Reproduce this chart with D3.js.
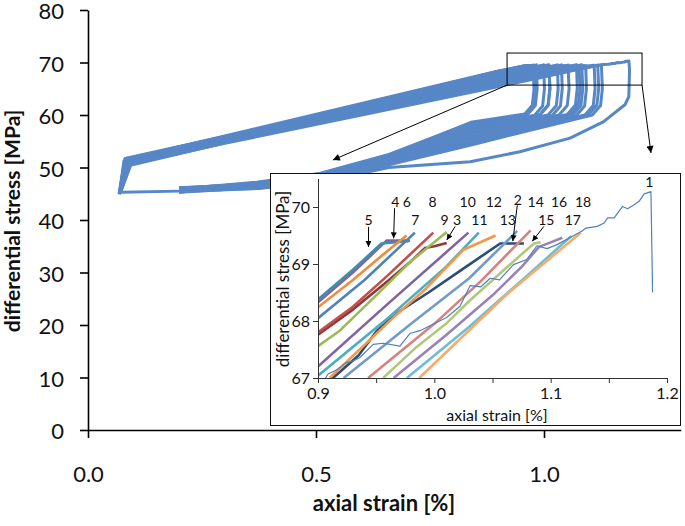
<!DOCTYPE html>
<html><head><meta charset="utf-8">
<script src="https://cdn.jsdelivr.net/npm/d3@7"></script>
<style>
body{margin:0;background:#fff}
svg{display:block}
text{font-family:Lato,"Open Sans",sans-serif;fill:#111}
</style>
</head><body>
<svg id="chart" width="685" height="526"></svg>
<script>
// ---------------- data ----------------
const mainXTicks = [0, 0.5, 1.0];
const mainYTicks = [0, 10, 20, 30, 40, 50, 60, 70, 80];
const insetXTicks = [0.9, 0.95, 1.0, 1.05, 1.1, 1.15, 1.2];
const insetXLabels = [0.9, 1.0, 1.1, 1.2];
const insetYTicks = [67, 68, 69, 70];
const seriesLabels = ["1","2","3","4","5","6","7","8","9","10","11","12","13","14","15","16","17","18"];
const seriesColors = ["#4F81BD","#2C4D75","#943634","#8064A2","#3F8DAE","#F38B3D","#4F81BD","#C0504D","#9BBB59",
                      "#8064A2","#4BACC6","#F79646","#729ACA","#D9817E","#AFC97A","#9983B5","#6FBDD1","#F9AB6B"];

// inset: top part of each loading branch  [axial strain %, differential stress MPa]
const insetLines = [
  [[0.905,66.95],[0.9086,67.07],[0.9158,67.14],[0.9244,67.27],[0.9302,67.30],[0.936,67.36],[0.9474,67.59],[0.956,67.61],[0.9704,67.56],[0.979,67.78],[0.9876,67.83],[1.0106,68.06],[1.0221,68.26],[1.0307,68.62],[1.04,68.60],[1.048,68.75],[1.056,68.72],[1.068,68.99],[1.0796,69.08],[1.0882,69.32],[1.0968,69.27],[1.1055,69.34],[1.127,69.58],[1.1302,69.63],[1.1402,69.66],[1.146,69.72],[1.1489,69.81],[1.1546,69.81],[1.1618,70.01],[1.1661,69.97],[1.1718,70.04],[1.176,70.10],[1.1804,70.23],[1.1862,70.27],[1.1876,68.5]],
  [[0.9,66.75],[0.9129,67.0],[0.935,67.4],[0.9506,67.83],[0.9707,68.18],[0.995,68.5],[1.0221,68.88],[1.0566,69.36],[1.077,69.36]],
  [[0.9,67.76],[0.93,68.2],[0.96,68.7],[0.98,69.05],[0.992,69.28],[1.0,69.31],[1.0106,69.37]],
  [[0.9,68.33],[0.93,68.85],[0.9589,69.41],[0.979,69.41]],
  [[0.9,68.38],[0.93,68.9],[0.9546,69.36],[0.9776,69.40]],
  [[0.9,68.24],[0.93,68.72],[0.955,69.15],[0.9761,69.50]],
  [[0.9,68.05],[0.94,68.72],[0.9833,69.55]],
  [[0.9,67.80],[0.93,68.25],[0.96,68.8],[0.9991,69.55]],
  [[0.9,67.56],[0.9187,67.83],[0.95,68.45],[0.98,69.05],[1.0106,69.56]],
  [[0.9,67.2],[0.96,68.3],[1.0293,69.55]],
  [[0.9,67.04],[0.96,68.05],[1.01,68.95],[1.0382,69.55]],
  [[0.91,67.0],[0.9647,68.06],[0.9934,68.58],[1.025,69.25],[1.0526,69.50]],
  [[0.922,67.0],[0.98,67.95],[1.03,68.75],[1.0713,69.58]],
  [[0.9431,67.0],[1.0,67.95],[1.04,68.7],[1.0828,69.59]],
  [[0.956,67.0],[0.985,67.55],[1.01,67.95],[1.03,68.35],[1.06,68.9],[1.0856,69.36],[1.0914,69.38]],
  [[0.965,67.0],[1.01,67.75],[1.05,68.45],[1.075,68.95],[1.09,69.3],[1.1,69.38],[1.11,69.46]],
  [[0.9764,67.0],[1.03,67.9],[1.08,68.8],[1.1178,69.49]],
  [[0.987,67.0],[1.0624,68.47],[1.1259,69.55]]
];

// main plot: lower-left part of each loading branch
const loadLeft = [
  [[0.070,45.3],[0.080,51.0],[0.3,55.2],[0.6,61.0]],
  [[0.071,45.8],[0.082,51.4],[0.3,55.3],[0.6,61.0]],
  [[0.069,45.0],[0.079,51.3],[0.3,55.6],[0.6,61.6]],
  [[0.070,45.5],[0.081,51.7],[0.3,55.9],[0.6,62.0]],
  [[0.072,46.0],[0.083,51.6],[0.3,56.0],[0.6,62.2]],
  [[0.068,44.9],[0.080,51.2],[0.3,55.6],[0.6,61.9]],
  [[0.071,45.6],[0.084,51.5],[0.3,55.7],[0.6,61.8]],
  [[0.070,45.2],[0.082,51.0],[0.3,55.4],[0.6,61.6]],
  [[0.073,45.9],[0.086,51.1],[0.3,55.4],[0.6,61.5]],
  [[0.071,45.4],[0.085,50.9],[0.3,55.3],[0.6,61.2]],
  [[0.069,45.1],[0.083,50.8],[0.3,55.2],[0.6,61.1]],
  [[0.072,45.7],[0.087,50.9],[0.3,55.1],[0.6,61.0]],
  [[0.071,45.3],[0.088,50.6],[0.3,55.0],[0.6,60.8]],
  [[0.073,45.8],[0.090,50.8],[0.3,54.9],[0.6,60.6]],
  [[0.069,44.9],[0.089,50.5],[0.3,54.8],[0.6,60.5]],
  [[0.072,45.5],[0.092,50.7],[0.3,54.8],[0.6,60.3]],
  [[0.074,46.0],[0.093,50.4],[0.3,54.7],[0.6,60.2]],
  [[0.071,45.2],[0.094,50.6],[0.3,54.6],[0.6,60.0]]
];

// main plot: unloading branches after each peak
const unloadPath = [
  [[1.186,63.5],[1.178,62.0],[1.13,58.7],[1.057,55.6],[0.947,53.0],[0.838,51.1],[0.66,50.0],[0.51,47.3],[0.37,46.0],[0.2,45.4]],
  [[1.079,65.0],[1.075,61.8],[1.057,60.0],[0.84,55.7],[0.66,51.0],[0.51,47.6],[0.37,46.4],[0.2,45.9]],
  [[1.013,65.0],[1.009,61.8],[0.991,60.0],[0.84,57.6],[0.66,52.0],[0.51,48.5],[0.37,46.9],[0.2,45.4]],
  [[0.981,65.0],[0.977,61.8],[0.959,60.0],[0.84,58.5],[0.66,52.5],[0.51,48.9],[0.37,47.1],[0.2,45.8]],
  [[0.980,65.2],[0.976,62.0],[0.958,60.2],[0.84,58.6],[0.66,52.3],[0.51,48.6],[0.37,46.9],[0.2,46.1]],
  [[0.978,64.8],[0.974,61.6],[0.956,59.9],[0.84,58.4],[0.66,52.2],[0.51,48.7],[0.37,47.0],[0.2,45.3]],
  [[0.985,65.0],[0.981,61.8],[0.963,60.0],[0.84,58.3],[0.66,52.4],[0.51,48.8],[0.37,47.2],[0.2,45.9]],
  [[1.001,65.0],[0.997,61.7],[0.979,59.9],[0.84,57.9],[0.66,52.1],[0.51,48.4],[0.37,46.8],[0.2,45.5]],
  [[1.013,65.1],[1.009,61.9],[0.991,60.1],[0.84,57.5],[0.66,51.9],[0.51,48.3],[0.37,46.9],[0.2,46.1]],
  [[1.031,65.0],[1.027,61.8],[1.009,60.0],[0.84,57.1],[0.66,51.7],[0.51,48.2],[0.37,46.7],[0.2,45.7]],
  [[1.040,65.0],[1.036,61.7],[1.018,59.9],[0.84,56.8],[0.66,51.6],[0.51,48.0],[0.37,46.5],[0.2,45.4]],
  [[1.055,65.0],[1.051,61.8],[1.033,60.0],[0.84,56.4],[0.66,51.4],[0.51,47.9],[0.37,46.6],[0.2,46.0]],
  [[1.073,65.1],[1.069,61.9],[1.051,60.1],[0.84,55.9],[0.66,51.2],[0.51,47.8],[0.37,46.4],[0.2,45.6]],
  [[1.085,65.0],[1.081,61.8],[1.063,60.0],[0.84,55.5],[0.66,51.1],[0.51,47.7],[0.37,46.5],[0.2,46.0]],
  [[1.093,65.0],[1.089,61.7],[1.071,59.9],[0.84,55.3],[0.66,51.0],[0.51,47.5],[0.37,46.2],[0.2,45.3]],
  [[1.112,65.0],[1.108,61.8],[1.090,60.0],[0.84,54.8],[0.66,50.7],[0.51,47.4],[0.37,46.3],[0.2,45.8]],
  [[1.120,65.1],[1.116,61.9],[1.098,60.1],[0.84,54.5],[0.66,50.6],[0.51,47.3],[0.37,46.4],[0.2,46.2]],
  [[1.128,65.0],[1.124,61.8],[1.106,60.0],[0.84,54.3],[0.66,50.5],[0.51,47.2],[0.37,46.0],[0.2,45.5],[0.071,45.3]]
];

// annotations (data units of the inset)
const labelPos = [
  [1.1848,70.44],[1.0718,70.13],[1.0195,69.78],[0.9664,70.09],[0.9434,69.78],[0.9764,70.09],[0.9836,69.78],[0.9985,70.09],[1.0089,69.78],
  [1.0287,70.09],[1.0388,69.78],[1.0511,70.09],[1.0632,69.78],[1.0871,70.09],[1.0963,69.78],[1.1072,70.09],[1.119,69.78],[1.1279,70.09]
];
const insetArrows = [
  [[0.9434,69.65],[0.9434,69.30]],
  [[0.9658,69.98],[0.9650,69.45]],
  [[1.0179,69.66],[1.0107,69.42]],
  [[1.0713,70.03],[1.0675,69.40]],
  [[1.0942,69.66],[1.0842,69.40]]
];
// main plot zoom window and its arrows (data units of the main plot)
const zoomBox = [[0.919,65.7],[1.215,71.8]];
const zoomArrows = [
  [[0.919,65.7],[0.537,51.43]],
  [[1.215,65.7],[1.2346,52.76]]
];

// ---------------- drawing ----------------
const svg = d3.select("#chart");
const defs = svg.append("defs");
defs.append("marker").attr("id","ah").attr("viewBox","0 0 10 10").attr("refX",10).attr("refY",5)
  .attr("markerWidth",9).attr("markerHeight",7).attr("markerUnits","userSpaceOnUse").attr("orient","auto")
  .append("path").attr("d","M0,0 L10,5 L0,10 z").attr("fill","#000");
defs.append("marker").attr("id","ahs").attr("viewBox","0 0 10 10").attr("refX",10).attr("refY",5)
  .attr("markerWidth",8).attr("markerHeight",6).attr("markerUnits","userSpaceOnUse").attr("orient","auto")
  .append("path").attr("d","M0,0 L10,5 L0,10 z").attr("fill","#000");

const x = d3.scaleLinear().domain([0, 1.3]).range([88, 680.8]);
const y = d3.scaleLinear().domain([0, 80]).range([430, 10]);

// main curve
const mainLine = d3.line().x(d => x(d[0])).y(d => y(d[1]));
const cycles = loadLeft.map((l, i) => l.concat(insetLines[i], unloadPath[i]));
svg.append("g").selectAll("path").data(cycles).join("path")
  .attr("d", mainLine).attr("fill","none").attr("stroke","#5787C6").attr("stroke-width",3)
  .attr("stroke-linejoin","round");

// main axes
const gy = svg.append("g").attr("transform",`translate(${x(0)},0)`)
  .call(d3.axisLeft(y).tickValues(mainYTicks).tickSize(8).tickSizeOuter(0).tickPadding(16));
const gx = svg.append("g").attr("transform",`translate(0,${y(0)})`)
  .call(d3.axisBottom(x).tickValues(mainXTicks).tickFormat(d3.format(".1f")).tickSize(8).tickSizeOuter(0).tickPadding(28));
[gx, gy].forEach(g => {
  g.select(".domain").attr("stroke","#000").attr("stroke-width",1.6);
  g.selectAll(".tick line").attr("stroke","#000").attr("stroke-width",1.6);
  g.selectAll(".tick text").style("font-size","22px").attr("fill","#111");
});
gy.selectAll(".tick text").attr("dy","0.4em");
svg.append("text").attr("x",384).attr("y",511).attr("text-anchor","middle")
  .style("font-size","22px").style("font-weight","bold").text("axial strain [%]");
svg.append("text").attr("transform","translate(20,221) rotate(-90)").attr("text-anchor","middle")
  .style("font-size","21px").style("font-weight","bold").text("differential stress [MPa]");

// zoom window + arrows
svg.append("rect").attr("x",x(zoomBox[0][0])).attr("y",y(zoomBox[1][1]))
  .attr("width",x(zoomBox[1][0])-x(zoomBox[0][0])).attr("height",y(zoomBox[0][1])-y(zoomBox[1][1]))
  .attr("fill","none").attr("stroke","#000").attr("stroke-width",1);
svg.append("g").selectAll("line").data(zoomArrows).join("line")
  .attr("x1",d=>x(d[0][0])).attr("y1",d=>y(d[0][1])).attr("x2",d=>x(d[1][0])).attr("y2",d=>y(d[1][1]))
  .attr("stroke","#000").attr("stroke-width",1).attr("marker-end","url(#ah)");

// inset panel
svg.append("rect").attr("x",270.5).attr("y",173.5).attr("width",410).attr("height",252)
  .attr("fill","#fff").attr("stroke","#111").attr("stroke-width",1);

const xi = d3.scaleLinear().domain([0.9, 1.2]).range([318, 667]);
const yi = d3.scaleLinear().domain([67, 70.5]).range([378, 178.5]);
defs.append("clipPath").attr("id","clipIn").append("rect")
  .attr("x",xi(0.9)).attr("y",yi(70.5)).attr("width",xi(1.2)-xi(0.9)).attr("height",yi(67)-yi(70.5));

const inLine = d3.line().x(d => xi(d[0])).y(d => yi(d[1]));
const gl = svg.append("g").attr("clip-path","url(#clipIn)");
const order = d3.range(1, 18).concat([0]);
gl.selectAll("path").data(order).join("path")
  .attr("d", i => inLine(insetLines[i])).attr("fill","none")
  .attr("stroke", i => seriesColors[i]).attr("stroke-width", i => i === 0 ? 1.2 : 2.6)
  .attr("stroke-linejoin","round");

const giy = svg.append("g").attr("transform",`translate(${xi(0.9)},0)`)
  .call(d3.axisLeft(yi).tickValues(insetYTicks).tickFormat(d3.format("d")).tickSize(5).tickSizeOuter(0).tickPadding(3));
const gix = svg.append("g").attr("transform",`translate(0,${yi(67)})`)
  .call(d3.axisBottom(xi).tickValues(insetXTicks).tickSize(5).tickSizeOuter(0).tickPadding(5)
    .tickFormat(d => insetXLabels.some(v => Math.abs(v-d) < 1e-9) ? d3.format(".1f")(d) : ""));
[gix, giy].forEach(g => {
  g.select(".domain").attr("stroke","#333").attr("stroke-width",1);
  g.selectAll(".tick line").attr("stroke","#333").attr("stroke-width",1);
  g.selectAll(".tick text").style("font-size","16px").attr("fill","#111");
});
svg.append("text").attr("x",497).attr("y",421).attr("text-anchor","middle")
  .style("font-size","16px").text("axial strain [%]");
svg.append("text").attr("transform","translate(289,279) rotate(-90)").attr("text-anchor","middle")
  .style("font-size","17px").text("differential stress [MPa]");

// series labels and arrows
svg.append("g").selectAll("text").data(labelPos).join("text")
  .attr("x", d => xi(d[0])).attr("y", d => yi(d[1])).attr("text-anchor","middle")
  .attr("dominant-baseline","central").style("font-size","14px")
  .text((d, i) => seriesLabels[i]);
svg.append("g").selectAll("line").data(insetArrows).join("line")
  .attr("x1",d=>xi(d[0][0])).attr("y1",d=>yi(d[0][1])).attr("x2",d=>xi(d[1][0])).attr("y2",d=>yi(d[1][1]))
  .attr("stroke","#000").attr("stroke-width",1).attr("marker-end","url(#ahs)");
</script>
</body></html>
